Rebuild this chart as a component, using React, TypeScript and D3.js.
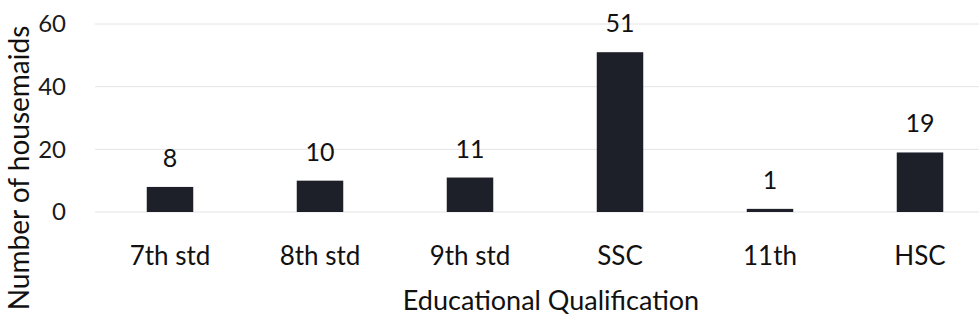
import React from "react";
import * as d3 from "d3";

const categories = ["7th std", "8th std", "9th std", "SSC", "11th", "HSC"];
const values = [8, 10, 11, 51, 1, 19];
const yTicks = [0, 20, 40, 60];

const W = 979;
const H = 335;

export default function App() {
  const x = d3.scaleBand<string>().domain(categories).range([95, 995]).paddingInner(0.69).paddingOuter(0.345);
  const y = d3.scaleLinear().domain([0, 60]).range([212, 24]);
  const font = "Lato, 'Open Sans', sans-serif";
  return (
    <div style={{ position: "fixed", left: 0, top: 0 }}>
      <svg width={W} height={H} style={{ display: "block", background: "#fff" }}>
        {yTicks.map((t) => (
          <g key={t}>
            <line x1={95} x2={W} y1={y(t)} y2={y(t)} stroke="#e4e4e4" strokeWidth={1} />
            <text x={66} y={y(t)} dy="0.35em" textAnchor="end" fontFamily={font} fontSize={24} fill="#1a1a1a">
              {t}
            </text>
          </g>
        ))}
        {categories.map((c, i) => {
          const v = values[i];
          const bx = x(c)!;
          const top = y(v);
          return (
            <g key={c}>
              <rect x={bx} y={top} width={x.bandwidth()} height={Math.max(y(0) - top, 2)} fill="#1e2029" />
              <text x={bx + x.bandwidth() / 2} y={top - 20} textAnchor="middle" fontFamily={font} fontSize={25} fill="#111">
                {v}
              </text>
              <text x={bx + x.bandwidth() / 2} y={265} textAnchor="middle" fontFamily={font} fontSize={26} fill="#111">
                {c}
              </text>
            </g>
          );
        })}
        <text x={551} y={310} textAnchor="middle" fontFamily={font} fontSize={27} fill="#111">
          Educational Qualification
        </text>
        <text
          transform={`translate(29, 168) rotate(-90)`}
          textAnchor="middle"
          fontFamily={font}
          fontSize={28}
          fill="#111"
        >
          Number of housemaids
        </text>
      </svg>
    </div>
  );
}
